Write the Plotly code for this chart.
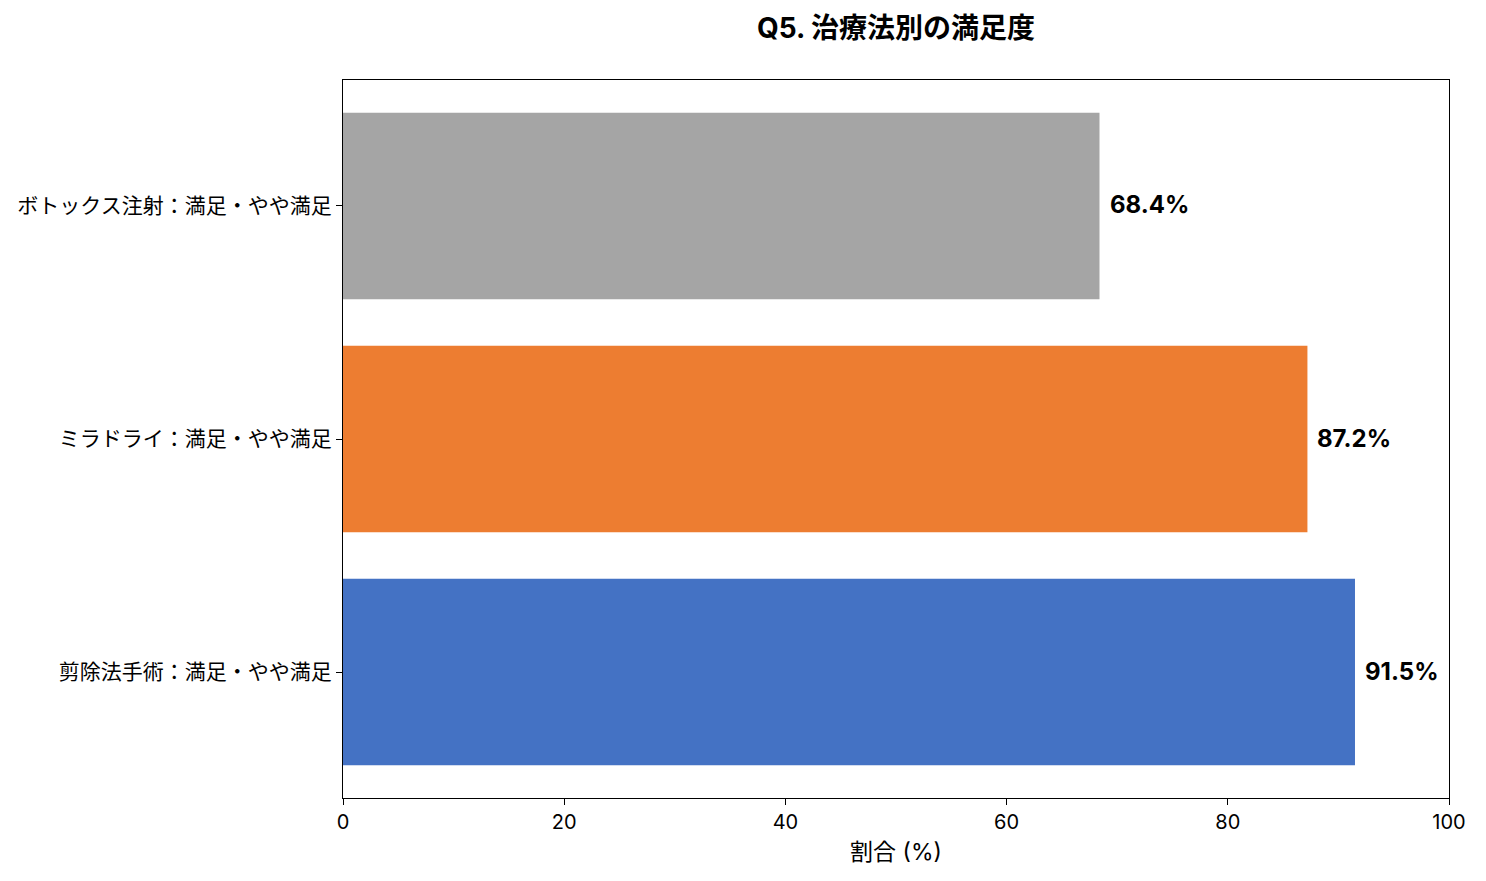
import plotly.graph_objects as go

# Q5 satisfaction by treatment (bottom -> top)
categories = ["剪除法手術：満足・やや満足", "ミラドライ：満足・やや満足", "ボトックス注射：満足・やや満足"]
values = [91.5, 87.2, 68.4]
colors = ["#4472C4", "#ED7D31", "#A5A5A5"]
x_ticks = [0, 20, 40, 60, 80, 100]

FONT = "Inter, Noto Sans CJK JP"

# page body has an 8px margin, so the figure is sized to fit inside it
W, H = 1470, 865

fig = go.Figure()
fig.add_trace(
    go.Bar(
        y=categories,
        x=values,
        orientation="h",
        marker=dict(color=colors, line=dict(width=0)),
        width=0.8,
        showlegend=False,
        hoverinfo="x+y",
    )
)

# value labels to the right of each bar
for cat, v in zip(categories, values):
    fig.add_annotation(
        x=v, y=cat, text=f"<b>{v:.1f}%</b>",
        xanchor="left", yanchor="middle", xshift=8, yshift=1,
        showarrow=False, font=dict(family=FONT, size=24, color="black"),
    )

fig.update_layout(
    width=W, height=H,
    paper_bgcolor="white", plot_bgcolor="white",
    margin=dict(l=335, r=29, t=72, b=75),
    font=dict(family=FONT, color="black"),
    title=dict(
        text="<b>Q5. 治療法別の満足度</b>",
        x=888 / W, xanchor="center",
        y=1 - 20 / H, yanchor="middle",
        font=dict(family=FONT, size=28, color="black"),
    ),
    xaxis=dict(
        range=[0, 100], tickvals=x_ticks, ticks="outside", ticklen=6, tickwidth=1.2,
        tickcolor="black", showgrid=False, zeroline=False, automargin=False,
        showline=True, linecolor="black", linewidth=1.2, mirror=True,
        tickfont=dict(size=20),
        title=dict(text="割合 (%)", font=dict(size=23), standoff=10),
    ),
    yaxis=dict(
        range=[-0.54, 2.54], ticks="outside", ticklen=6, tickwidth=1.2,
        tickcolor="black", showgrid=False, zeroline=False, automargin=False,
        showline=True, linecolor="black", linewidth=1.2, mirror=True,
        tickfont=dict(size=21),
    ),
)

fig.write_html("out.html")
